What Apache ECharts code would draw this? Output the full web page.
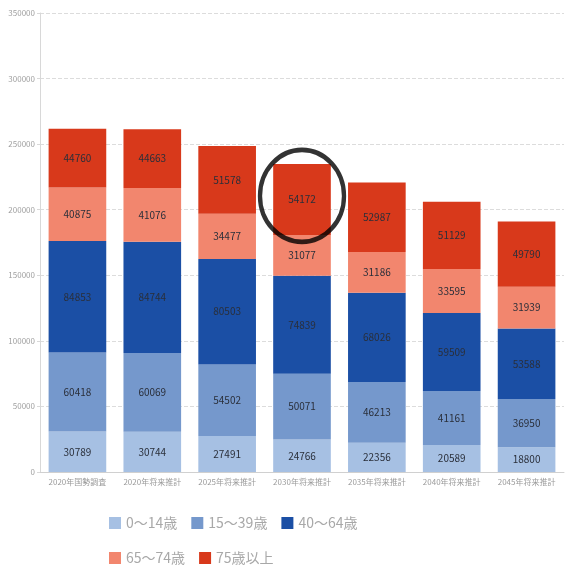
<!DOCTYPE html>
<html>
<head>
<meta charset="utf-8">
<script src="https://cdn.jsdelivr.net/npm/echarts@6/dist/echarts.min.js"></script>
<style>
  html, body { margin: 0; padding: 0; background: #fff; }
  #chart { width: 566px; height: 572px; }
</style>
</head>
<body>
<div id="chart"></div>
<script>
// 年齢区分別人口の推移（国勢調査・将来推計）
const categories = ['2020年国勢調査', '2020年将来推計', '2025年将来推計', '2030年将来推計', '2035年将来推計', '2040年将来推計', '2045年将来推計'];
const seriesNames = ['0～14歳', '15～39歳', '40～64歳', '65～74歳', '75歳以上'];
const age0to14 = [30789, 30744, 27491, 24766, 22356, 20589, 18800];
const age15to39 = [60418, 60069, 54502, 50071, 46213, 41161, 36950];
const age40to64 = [84853, 84744, 80503, 74839, 68026, 59509, 53588];
const age65to74 = [40875, 41076, 34477, 31077, 31186, 33595, 31939];
const age75plus = [44760, 44663, 51578, 54172, 52987, 51129, 49790];
const yTicks = [0, 50000, 100000, 150000, 200000, 250000, 300000, 350000];
const highlightIndex = 3; // 2030年将来推計の75歳以上を囲む

const colors = ['#a6c0e3', '#7598cc', '#1b4fa5', '#f2866e', '#d8391b'];
const values = [age0to14, age15to39, age40to64, age65to74, age75plus];

const font = '"Liberation Sans Narrow", "Noto Sans CJK JP", sans-serif';

// 囲み円の中心：強調するセグメントの中ほど
const baseBelow = age0to14[highlightIndex] + age15to39[highlightIndex] + age40to64[highlightIndex] + age65to74[highlightIndex];
const circleY = baseBelow + age75plus[highlightIndex] * 0.55;

const series = values.map((vals, i) => ({
  name: seriesNames[i],
  type: 'bar',
  stack: 'total',
  barCategoryGap: '23%',
  data: vals,
  itemStyle: { color: colors[i] },
  label: {
    show: true,
    position: 'inside',
    color: '#2a2f3a',
    fontFamily: font,
    fontSize: 10
  }
}));

// 強調用の円（白抜き・黒枠）
series.push({
  name: 'highlight',
  type: 'scatter',
  data: [[categories[highlightIndex], circleY]],
  symbol: 'circle',
  symbolSize: [84, 92],
  itemStyle: { color: 'rgba(0,0,0,0)', borderColor: '#000', borderWidth: 4.5 },
  z: 10,
  silent: true,
  tooltip: { show: false }
});

const chart = echarts.init(document.getElementById('chart'), null, { renderer: 'canvas' });
chart.setOption({
  animation: false,
  backgroundColor: '#fff',
  grid: { left: 40, right: 2, top: 13, bottom: 100 },
  legend: [
    {
      data: seriesNames.slice(0, 3),
      left: 104, top: 511,
      itemWidth: 12, itemHeight: 12, itemGap: 14,
      icon: 'rect',
      textStyle: { color: '#a8a8a8', fontSize: 14, fontFamily: font }
    },
    {
      data: seriesNames.slice(3),
      left: 104, top: 546,
      itemWidth: 12, itemHeight: 12, itemGap: 14,
      icon: 'rect',
      textStyle: { color: '#a8a8a8', fontSize: 14, fontFamily: font }
    }
  ],
  xAxis: {
    type: 'category',
    data: categories,
    axisLine: { lineStyle: { color: '#d0d0d0' } },
    axisTick: { show: false },
    axisLabel: { color: '#9a9a9a', fontSize: 8, fontFamily: font, margin: 6, interval: 0 }
  },
  yAxis: {
    type: 'value',
    min: yTicks[0],
    max: yTicks[yTicks.length - 1],
    interval: yTicks[1] - yTicks[0],
    axisLine: { show: true, lineStyle: { color: '#d8d8d8' } },
    axisTick: { show: true, length: 3, lineStyle: { color: '#d8d8d8' } },
    axisLabel: { color: '#a0a0a0', fontSize: 8, fontFamily: font, margin: 5, formatter: v => String(v) },
    splitLine: { lineStyle: { color: '#dcdcdc', type: 'dashed' } }
  },
  series: series
});
</script>
</body>
</html>
